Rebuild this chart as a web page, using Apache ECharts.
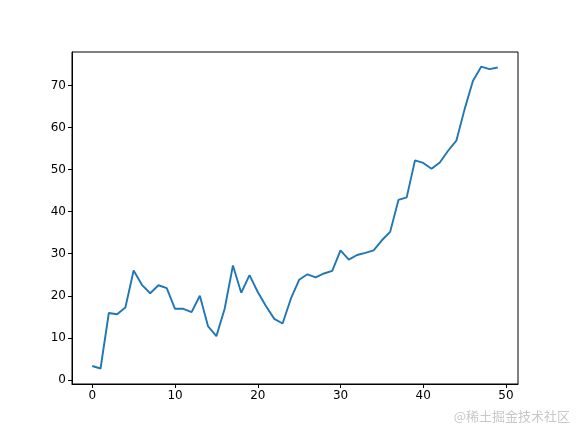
<!DOCTYPE html>
<html>
<head>
<meta charset="utf-8">
<script src="https://cdn.jsdelivr.net/npm/echarts@6/dist/echarts.min.js"></script>
<style>html,body{margin:0;padding:0;background:#fff}#c{width:576px;height:432px}</style>
</head>
<body>
<div id="c"></div>
<script>
const xValues = [0,1,2,3,4,5,6,7,8,9,10,11,12,13,14,15,16,17,18,19,20,21,22,23,24,25,26,27,28,29,30,31,32,33,34,35,36,37,38,39,40,41,42,43,44,45,46,47,48,49];
const yValues = [3.3,2.7,15.9,15.6,17.2,26.0,22.6,20.6,22.5,21.8,16.9,16.9,16.1,20.0,12.7,10.4,16.9,27.2,20.7,24.9,20.9,17.5,14.5,13.4,19.3,23.8,25.1,24.4,25.3,25.9,30.8,28.6,29.7,30.2,30.8,33.2,35.2,42.8,43.4,52.2,51.6,50.2,51.7,54.5,56.9,64.4,71.1,74.5,73.9,74.3];
const xTicks = [0,10,20,30,40,50];
const yTicks = [0,10,20,30,40,50,60,70];
const watermark = '@稀土掘金技术社区';

const chart = echarts.init(document.getElementById('c'), null, {renderer:'canvas'});
const font = 'DejaVu Sans';
chart.setOption({
  animation:false,
  backgroundColor:'#fff',
  grid:{left:72,right:58,top:52,bottom:48,show:true,borderColor:'#000',borderWidth:1,backgroundColor:'transparent'},
  xAxis:{type:'value',min:-2.45,max:51.45,
    axisLine:{show:true,onZero:false,lineStyle:{color:'#000',width:1}},
    splitLine:{show:false},
    axisTick:{show:true,customValues:xTicks,length:4,lineStyle:{color:'#000',width:1}},
    axisLabel:{customValues:xTicks,color:'#000',fontFamily:font,fontSize:12,margin:6}},
  yAxis:{type:'value',min:-0.99,max:77.99,
    axisLine:{show:true,onZero:false,lineStyle:{color:'#000',width:1}},
    splitLine:{show:false},
    axisTick:{show:true,customValues:yTicks,length:4,lineStyle:{color:'#000',width:1}},
    axisLabel:{customValues:yTicks,color:'#000',fontFamily:font,fontSize:12,margin:6}},
  series:[{type:'line',data:xValues.map((x,i)=>[x,yValues[i]]),showSymbol:false,
    lineStyle:{color:'#1f77b4',width:1.9},itemStyle:{color:'#1f77b4'}}],
  graphic:[{type:'text',right:6,bottom:9,style:{text:watermark,fill:'#c8c8c8',font:'13px "Noto Sans CJK SC"'}}]
});
</script>
</body>
</html>
